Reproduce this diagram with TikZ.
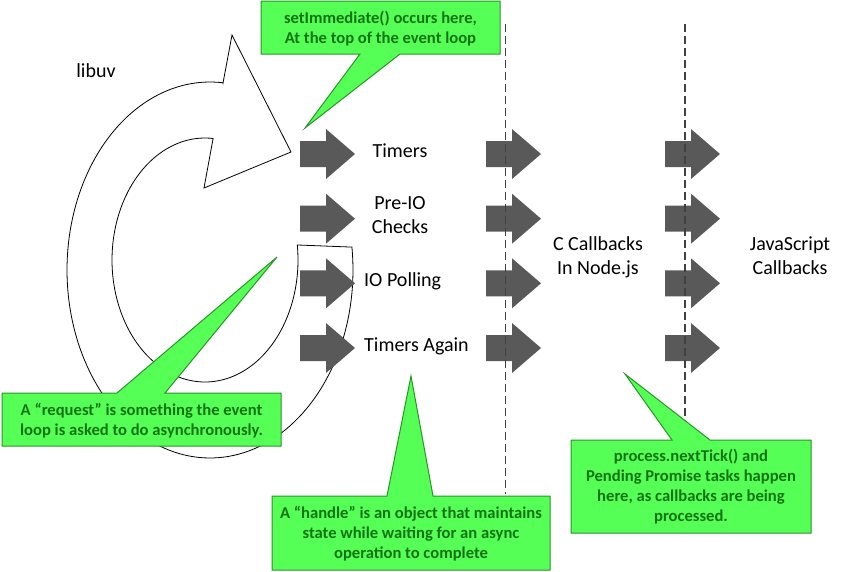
\documentclass[tikz,border=0pt]{standalone}
\usepackage{fontspec}
\setmainfont{Carlito}
\definecolor{arrowgray}{RGB}{89,89,89}
\definecolor{calloutfill}{RGB}{85,255,85}
\definecolor{calloutline}{RGB}{40,150,40}
\definecolor{callouttext}{RGB}{20,115,20}
\definecolor{dashgray}{RGB}{64,64,64}
\tikzset{
  stagearrow/.pic={\fill[arrowgray] (0,-13) -- (26,-13) -- (26,-25) -- (55,0) -- (26,25) -- (26,13) -- (0,13) -- cycle;},
  stagelabel/.style={font=\fontsize{20}{24}\selectfont, align=center, inner sep=0pt},
  calloutshape/.style={fill=calloutfill, draw=calloutline, line width=1pt, line join=miter},
  callouttxt/.style={font=\fontsize{16.6}{20}\selectfont\bfseries, text=callouttext, align=center, inner sep=0pt},
  divider/.style={draw=dashgray, line width=1.4pt, dash pattern=on 8pt off 4pt},
  circarrow/.style={draw=black, fill=white, line width=0.8pt, line join=miter}
}
\begin{document}
\begin{tikzpicture}[x=1pt,y=-1pt]
\useasboundingbox (0,0) rectangle (846,571);

% libuv loop arrow
\draw[circarrow] (291,152) -- (232,35) -- (223,83)
  -- plot[domain=-84.8:-367, samples=140] ({210+143*cos(\x)},{270+188*sin(\x)})
  -- (298,245)
  -- plot[domain=-367:-85, samples=140] ({205+93*cos(\x)},{260+122*sin(\x)})
  -- (204,188) -- cycle;
\node[stagelabel, anchor=base] (libuv) at (96,77) {libuv};

% stage arrows
\foreach \r/\y in {1/154, 2/218.7, 3/283.3, 4/348} {
  \pic (a\r) at (300,\y) {stagearrow};
  \pic (b\r) at (486,\y) {stagearrow};
  \pic (c\r) at (665,\y) {stagearrow};
}

% stage labels
\node[stagelabel, anchor=base] (timers) at (400,157) {Timers};
\node[stagelabel] (preio) at (400,215.5) {Pre-IO\\Checks};
\node[stagelabel, anchor=base west] (iopoll) at (364,286.5) {IO Polling};
\node[stagelabel, anchor=base west] (timers2) at (364,351.5) {Timers Again};
\node[stagelabel] (ccb) at (598,257) {C Callbacks\\In Node.js};
\node[stagelabel] (jscb) at (790,256) {JavaScript\\Callbacks};

% dividers
\coordinate (d1top) at (505.5,24);
\coordinate (d1bot) at (505.5,494);
\coordinate (d2top) at (685,24);
\coordinate (d2bot) at (685,441);
\draw[divider] (d1top) -- (d1bot);
\draw[divider] (d2top) -- (d2bot);

% callouts
\draw[calloutshape] (261,1) -- (500,1) -- (500,54) -- (400,54) -- (305,128) -- (360,54) -- (261,54) -- cycle;
\node[callouttxt] (setimm) at (380.5,28.5) {setImmediate() occurs here,\\At the top of the event loop};

\draw[calloutshape] (2,393) -- (117,393) -- (277,257) -- (165,393) -- (281,393) -- (281,446) -- (2,446) -- cycle;
\node[callouttxt] (request) at (141.5,420.5) {A “request” is something the event\\loop is asked to do asynchronously.};

\draw[calloutshape] (272,496) -- (387,496) -- (411,376) -- (433,496) -- (550,496) -- (550,570) -- (272,570) -- cycle;
\node[callouttxt] (handle) at (411,534) {A “handle” is an object that maintains\\state while waiting for an async\\operation to complete};

\draw[calloutshape] (571,440) -- (672,440) -- (625,374) -- (710,440) -- (811,440) -- (811,533) -- (571,533) -- cycle;
\node[callouttxt] (ticks) at (691,487) {process.nextTick() and\\Pending Promise tasks happen\\here, as callbacks are being\\processed.};
\end{tikzpicture}
\end{document}
